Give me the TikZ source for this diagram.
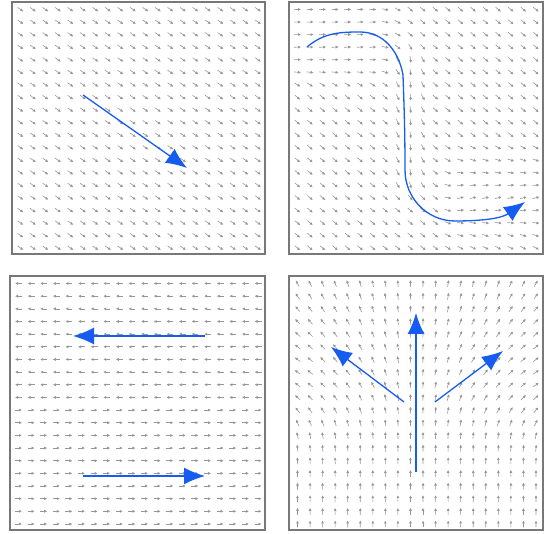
\documentclass[tikz,border=0pt]{standalone}
\usepackage{tikz}
\usetikzlibrary{arrows.meta}
\definecolor{flowblue}{RGB}{22,92,240}
\definecolor{fieldgray}{RGB}{150,150,150}
\definecolor{framegray}{RGB}{120,120,120}

\begin{document}
\begin{tikzpicture}[x=1pt, y=1pt,
    panel/.style={draw=framegray, line width=1.3pt},
    field/.style={draw=fieldgray, line width=0.6pt, -{Latex[length=3pt,width=3pt]}},
    flow/.style={draw=flowblue, line width=1.3pt, -{Latex[length=21pt,width=17pt]}}]
    \useasboundingbox (0,0) rectangle (547,534);

    % panel corners
    \coordinate (tl) at (12,280);  \coordinate (tlx) at (265,532);
    \coordinate (tr) at (289,280); \coordinate (trx) at (543,532);
    \coordinate (bl) at (10,4);    \coordinate (blx) at (265,258);
    \coordinate (br) at (289,4);   \coordinate (brx) at (543,258);

    % uniform field
    \foreach \i in {0,...,19}
        \foreach \j in {0,...,19} {
            \pgfmathsetmacro\cx{12+8.5+\i*(253-15.5)/19}
            \pgfmathsetmacro\cy{532-7.5-\j*(252-13.5)/19}
            \draw[field] (\cx,\cy) ++(145:3.5) -- ++(-35:7);
        }

    % bent field
    \foreach \i in {0,...,19}
        \foreach \j in {0,...,19} {
            \pgfmathsetmacro\cx{289+8.5+\i*(254-15.5)/19}
            \pgfmathsetmacro\cy{532-7.5-\j*(252-13.5)/19}
            \pgfmathsetmacro\u{(\i+0.5)/20}
            \pgfmathsetmacro\v{1-(\j+0.5)/20}
            \pgfmathsetmacro\ta{max(0,min(1,(0.40-\u)/0.12+0.5))*max(0,min(1,(\v-0.70)/0.08+0.5))}
            \pgfmathsetmacro\tc{max(0,1-abs(\u-0.47)/0.1)*max(0,min(1,(\v-0.25)/0.1+0.5))*max(0,min(1,(0.82-\v)/0.08+0.5))}
            \pgfmathsetmacro\tb{max(0,min(1,(\u-0.62)/0.1+0.5))*max(0,1-abs(\v-0.22)/0.25)}
            \pgfmathsetmacro\ang{-40+42*\ta-45*\tc+55*\tb}
            \pgfmathsetmacro\back{\ang+180}
            \draw[field] (\cx,\cy) ++(\back:3.5) -- ++(\ang:7);
        }

    % split field
    \foreach \i in {0,...,19}
        \foreach \j in {0,...,19} {
            \pgfmathsetmacro\cx{10+8.5+\i*(255-15.5)/19}
            \pgfmathsetmacro\cy{258-7.5-\j*(254-13.5)/19}
            \pgfmathsetmacro\ang{(\j<10)*180}
            \pgfmathsetmacro\back{\ang+180}
            \draw[field] (\cx,\cy) ++(\back:3.5) -- ++(\ang:7);
        }

    % spreading field
    \foreach \i in {0,...,19}
        \foreach \j in {0,...,19} {
            \pgfmathsetmacro\cx{289+8.5+\i*(254-15.5)/19}
            \pgfmathsetmacro\cy{258-7.5-\j*(254-13.5)/19}
            \pgfmathsetmacro\u{(\i+0.5)/20}
            \pgfmathsetmacro\v{1-(\j+0.5)/20}
            \pgfmathsetmacro\g{(\v>0.6)*exp(max(-9,-((\v-0.6)/0.4)*((\v-0.6)/0.4)))+(\v<=0.6)*exp(max(-9,-((\v-0.6)/0.17)*((\v-0.6)/0.17)))}
            \pgfmathsetmacro\vx{2.86*(\u-0.5)*\g}
            \pgfmathsetmacro\ang{90-atan(\vx)}
            \pgfmathsetmacro\back{\ang+180}
            \draw[field] (\cx,\cy) ++(\back:3.5) -- ++(\ang:7);
        }

    \draw[panel] (tl) rectangle (tlx);
    \draw[panel] (tr) rectangle (trx);
    \draw[panel] (bl) rectangle (blx);
    \draw[panel] (br) rectangle (brx);

    % flow paths
    \coordinate (tlA) at (83,439);  \coordinate (tlB) at (187,366);
    \draw[flow] (tlA) -- (tlB);

    \coordinate (trA) at (307,487); \coordinate (trB) at (360,502);
    \coordinate (trC) at (403,459); \coordinate (trD) at (405,364);
    \coordinate (trE) at (455,313); \coordinate (trF) at (525,332);
    \draw[flow] (trA) to[out=40,in=180] (trB) to[out=0,in=100] (trC)
        to[out=-88,in=90] (trD) to[out=-90,in=180] (trE) to[out=0,in=215] (trF);

    \coordinate (blA) at (205,198); \coordinate (blB) at (73,198);
    \coordinate (blC) at (83,58);   \coordinate (blD) at (205,58);
    \draw[flow] (blA) -- (blB);
    \draw[flow] (blC) -- (blD);

    \coordinate (brA) at (416,62);  \coordinate (brB) at (416,221);
    \coordinate (brC) at (404,132); \coordinate (brD) at (331,187);
    \coordinate (brE) at (435,132); \coordinate (brF) at (503,183);
    \draw[flow] (brA) -- (brB);
    \draw[flow] (brC) -- (brD);
    \draw[flow] (brE) -- (brF);
\end{tikzpicture}
\end{document}
